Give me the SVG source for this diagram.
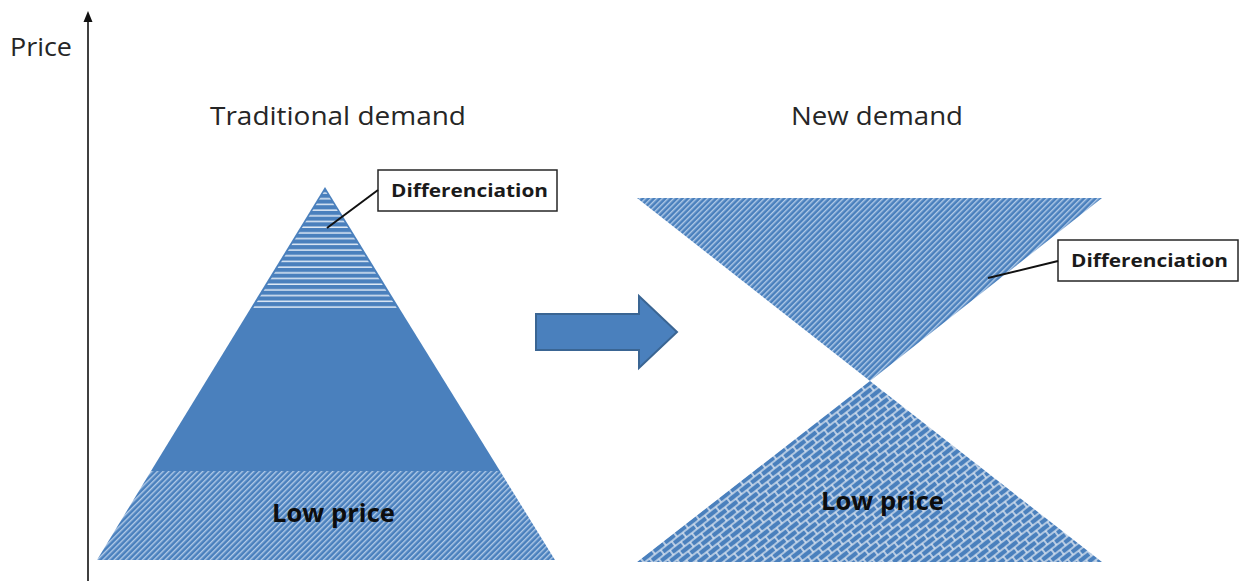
<svg xmlns="http://www.w3.org/2000/svg" width="1244" height="581" viewBox="0 0 1244 581">
  <style>
    .title { font-family: "Open Sans", "Liberation Sans", sans-serif; font-size: 25px; fill: #262626; }
    .label { font-family: "Open Sans", "Liberation Sans", sans-serif; font-weight: bold; font-size: 25px; fill: #0d0d0d; }
    .callout rect { fill: #ffffff; stroke: #262626; stroke-width: 1.5; }
    .callout text { font-family: "Open Sans", "Liberation Sans", sans-serif; font-weight: bold; font-size: 18px; fill: #1a1a1a; }
    .leader { stroke: #111111; stroke-width: 2; fill: none; }
  </style>
  <defs>
    <!-- narrow horizontal lines -->
    <pattern id="hLines" width="8" height="5.7" patternUnits="userSpaceOnUse">
      <rect width="8" height="5.7" fill="#4a80bd"/>
      <rect y="4.2" width="8" height="1.5" fill="#dfe9f5"/>
    </pattern>
    <!-- fine downward diagonal -->
    <pattern id="diag" width="4" height="4" patternUnits="userSpaceOnUse" patternTransform="rotate(45)">
      <rect width="4" height="4" fill="#4a80bd"/>
      <rect width="1.4" height="4" fill="#b2cbe8"/>
    </pattern>
    <!-- diagonal brick -->
    <pattern id="brick" width="14" height="12" patternUnits="userSpaceOnUse" patternTransform="rotate(-38)">
      <rect width="14" height="12" fill="#cfdcec"/>
      <rect x="0.8" y="0.8" width="12.4" height="4.4" rx="0.8" fill="#4a80bd"/>
      <rect x="-6.2" y="6.8" width="12.4" height="4.4" rx="0.8" fill="#4a80bd"/>
      <rect x="7.8" y="6.8" width="12.4" height="4.4" rx="0.8" fill="#4a80bd"/>
    </pattern>
  </defs>

  <rect width="1244" height="581" fill="#ffffff"/>

  <!-- price axis -->
  <g id="axis">
    <line x1="88" y1="581" x2="88" y2="20" stroke="#404040" stroke-width="2"/>
    <polygon points="88,11 83.5,22 92.5,22" fill="#111111"/>
    <text x="10" y="56" class="title" font-size="24" textLength="62" lengthAdjust="spacingAndGlyphs">Price</text>
  </g>

  <!-- traditional pyramid -->
  <g id="traditional">
    <text x="210" y="125" class="title" textLength="256" lengthAdjust="spacingAndGlyphs">Traditional demand</text>
    <polygon points="325,187 401,311 249,311" fill="#4a80bd"/>
    <polygon points="325,190 398,310 252,310" fill="url(#hLines)"/>
    <polygon points="249,311 401,311 500,471 151,471" fill="#4a80bd"/>
    <polygon points="151,471 500,471 555,560 97,560" fill="url(#diag)"/>
    <text x="272" y="522" class="label" textLength="123" lengthAdjust="spacingAndGlyphs">Low price</text>
  </g>

  <!-- transition arrow -->
  <g id="shift-arrow">
    <polygon points="536,314 639,314 639,296 677,332 639,368 639,350 536,350" fill="#4a80bd" stroke="#3a6593" stroke-width="2" stroke-linejoin="miter"/>
  </g>

  <!-- new demand hourglass -->
  <g id="new-demand">
    <text x="791" y="125" class="title" textLength="172" lengthAdjust="spacingAndGlyphs">New demand</text>
    <polygon points="637,198 1102,198 870,381" fill="url(#diag)"/>
    <polygon points="870,381 1102,562 637,562" fill="url(#brick)"/>
    <text x="821" y="510" class="label" textLength="123" lengthAdjust="spacingAndGlyphs">Low price</text>
  </g>

  <!-- callouts -->
  <g id="callout-left" class="callout">
    <rect x="378" y="170" width="179" height="41"/>
    <text x="391" y="197" textLength="157" lengthAdjust="spacingAndGlyphs">Differenciation</text>
  </g>
  <g id="callout-right" class="callout">
    <rect x="1058" y="240" width="180" height="41"/>
    <text x="1071" y="267" textLength="157" lengthAdjust="spacingAndGlyphs">Differenciation</text>
  </g>

  <g id="connectors">
    <line class="leader" x1="378" y1="190" x2="327" y2="228"/>
    <line class="leader" x1="1058" y1="261" x2="988" y2="278"/>
  </g>
</svg>
